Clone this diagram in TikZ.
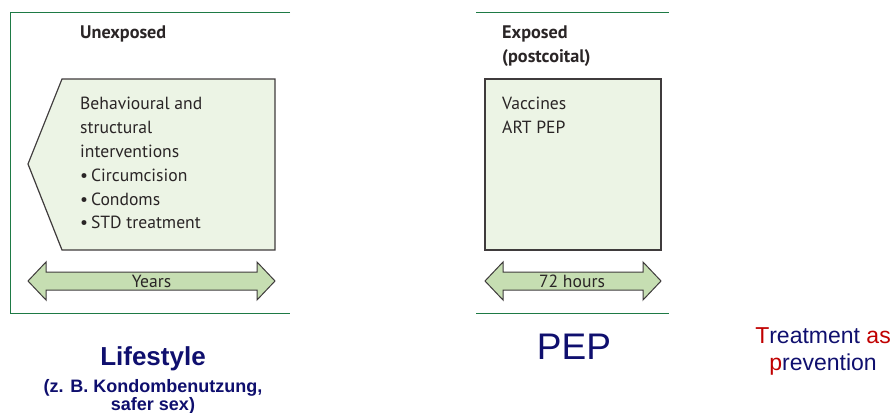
\documentclass[tikz,border=0pt]{standalone}
\usepackage{fontspec}
\setmainfont{PT Sans}
\newfontfamily\arial{Liberation Sans}
\definecolor{frame}{HTML}{1E7A45}
\definecolor{boxfill}{HTML}{ECF4E5}
\definecolor{arrfill}{HTML}{C6DEB2}
\definecolor{txt}{HTML}{2A2526}
\definecolor{navy}{HTML}{0F0F6E}
\definecolor{tred}{HTML}{C00000}
\tikzset{
  x=1pt, y=-1pt,
  frameline/.style={draw=frame, line width=1pt},
  panelbox/.style={draw=txt!90, fill=boxfill, line width=1.2pt},
  arrowshape/.style={draw=txt!90, fill=arrfill, line width=1pt, line join=miter},
  bodytext/.style={font=\fontsize{17.6}{24}\selectfont, text=txt, anchor=base west, inner sep=0pt},
  headtext/.style={font=\fontsize{18.2}{24}\selectfont\bfseries, text=txt, anchor=base west, inner sep=0pt},
  bottomtext/.style={text=navy, anchor=base, inner sep=0pt},
}
\begin{document}
\begin{tikzpicture}
\useasboundingbox (0,0) rectangle (896,412);
% left panel frame
\draw[frameline] (290,13) -- (10,13) -- (10,313) -- (290,313);
\node[headtext] (unexp) at (80,39) {Unexposed};
\draw[panelbox] (62,79) -- (275,79) -- (275,250) -- (62,250) -- (28,164) -- cycle;
\node[bodytext] (b1) at (80,109) {Behavioural and};
\node[bodytext] (b2) at (80,133) {structural};
\node[bodytext] (b3) at (80,157) {interventions};
\node[bodytext] (b4) at (80,181) {\textbullet\,Circumcision};
\node[bodytext] (b5) at (80,205) {\textbullet\,Condoms};
\node[bodytext] (b6) at (80,228) {\textbullet\,STD treatment};
\draw[arrowshape] (28,281) -- (46,262) -- (46,272) -- (257,272) -- (257,262) -- (275,281)
  -- (257,300) -- (257,290) -- (46,290) -- (46,300) -- cycle;
\node[bodytext, anchor=base] (years) at (151.5,287.5) {Years};
% right panel frame
\draw[frameline] (476,13) -- (669,13);
\draw[frameline] (476,313) -- (669,313);
\node[headtext] (exp1) at (502,39) {Exposed};
\node[headtext] (exp2) at (502,63) {(postcoital)};
\draw[panelbox, line width=2pt] (485,79) rectangle (661,250);
\node[bodytext] (v1) at (502,109) {Vaccines};
\node[bodytext] (v2) at (502,133) {ART PEP};
\draw[arrowshape] (485,281) -- (503,262) -- (503,272) -- (643,272) -- (643,262) -- (661,281)
  -- (643,300) -- (643,290) -- (503,290) -- (503,300) -- cycle;
\node[bodytext, anchor=base] (hours) at (572,287.5) {72 hours};
% bottom labels
\node[bottomtext, font=\arial\bfseries\fontsize{26}{30}\selectfont] (life) at (153,365) {Lifestyle};
\node[bottomtext, font=\arial\bfseries\fontsize{18}{20}\selectfont] (life2) at (153,392) {(z. B. Kondombenutzung,};
\node[bottomtext, font=\arial\bfseries\fontsize{18}{20}\selectfont] (life3) at (153,410) {safer sex)};
\node[bottomtext, font=\arial\fontsize{37}{40}\selectfont] (pep) at (574,359) {PEP};
\node[bottomtext, font=\arial\fontsize{23}{26}\selectfont] (tasp1) at (823,343) {\textcolor{tred}{T}reatment \textcolor{tred}{as}};
\node[bottomtext, font=\arial\fontsize{23}{26}\selectfont] (tasp2) at (823,370) {\textcolor{tred}{p}revention};
\end{tikzpicture}
\end{document}
